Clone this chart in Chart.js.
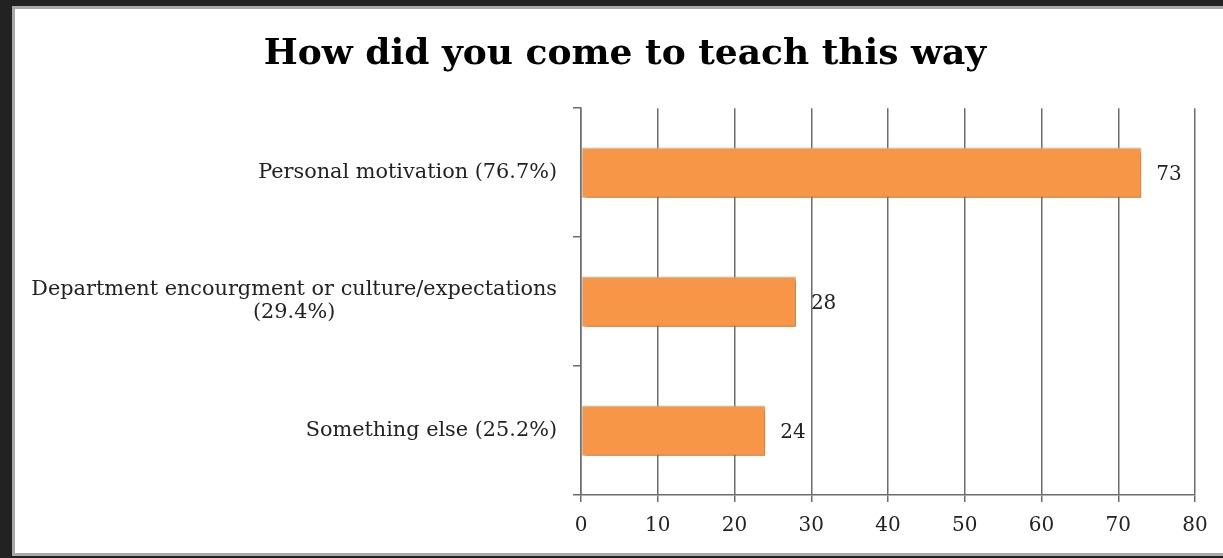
<!DOCTYPE html>
<html>
<head>
<meta charset="utf-8">
<script src="https://cdn.jsdelivr.net/npm/chart.js@4"></script>
<style>
  html, body { margin: 0; padding: 0; background: #222222; width: 1223px; height: 558px; overflow: hidden; }
  #panel { position: absolute; left: 12px; top: 6px; width: 1220px; height: 544px; background: #ffffff; border: 3px solid #a8a8a8; }
  #wrap { position: absolute; left: 0; top: 0; width: 1223px; height: 558px; }
</style>
</head>
<body>
<div id="panel"></div>
<div id="wrap"><canvas id="chart"></canvas></div>
<script>
// dados
const chartTitle = 'How did you come to teach this way';
const categories = [
  ['Personal motivation (76.7%)'],
  ['Department encourgment or culture/expectations', '(29.4%)'],
  ['Something else (25.2%)']
];
const counts = [73, 28, 24];
const xMin = 0;
const xMax = 80;
const xStep = 10;

const serif = "'DejaVu Serif', 'Liberation Serif', serif";
const barColor = '#f79646';
const gridColor = '#6c6c6c';

// sombra das barras (como no Excel)
const barShadow = {
  id: 'barShadow',
  beforeDatasetsDraw(chart) {
    const ctx = chart.ctx;
    ctx.save();
    ctx.shadowColor = 'rgba(0,0,0,0.4)';
    ctx.shadowBlur = 4;
    ctx.shadowOffsetX = 2;
    ctx.shadowOffsetY = 3;
  },
  afterDatasetsDraw(chart) {
    chart.ctx.restore();
  }
};

// rótulos de categoria: bloco alinhado à direita, linhas centradas entre si
const categoryLabels = {
  id: 'categoryLabels',
  afterDraw(chart) {
    const ctx = chart.ctx;
    const y = chart.scales.y;
    const right = chart.chartArea.left - 24;
    const lineH = 23;
    ctx.save();
    ctx.font = '20.8px ' + serif;
    ctx.fillStyle = '#222222';
    ctx.textAlign = 'center';
    ctx.textBaseline = 'middle';
    categories.forEach((lines, i) => {
      const cy = y.getPixelForValue(i);
      const w = Math.max(...lines.map(l => ctx.measureText(l).width));
      const cx = right - w / 2;
      const y0 = cy - (lines.length - 1) * lineH / 2;
      lines.forEach((l, k) => ctx.fillText(l, cx, y0 + k * lineH));
    });
    ctx.restore();
  }
};

// valores ao lado das barras
const valueLabels = {
  id: 'valueLabels',
  afterDatasetsDraw(chart) {
    const ctx = chart.ctx;
    const meta = chart.getDatasetMeta(0);
    ctx.save();
    ctx.font = '20px ' + serif;
    ctx.fillStyle = '#222222';
    ctx.textAlign = 'left';
    ctx.textBaseline = 'middle';
    meta.data.forEach((bar, i) => {
      ctx.fillText(String(counts[i]), bar.x + 15, bar.y + 2);
    });
    ctx.restore();
  }
};

new Chart(document.getElementById('chart'), {
  type: 'bar',
  data: {
    labels: categories.map(c => c.join(' ')),
    datasets: [{
      data: counts,
      backgroundColor: barColor,
      borderColor: '#fbb77f',
      borderWidth: 1,
      borderSkipped: false,
      barPercentage: 0.39,
      categoryPercentage: 1
    }]
  },
  options: {
    indexAxis: 'y',
    responsive: true,
    maintainAspectRatio: false,
    animation: false,
    layout: { padding: { left: 55, right: 28, top: 8, bottom: 21 } },
    plugins: {
      legend: { display: false },
      tooltip: { enabled: false },
      title: {
        display: true,
        text: chartTitle,
        color: '#000000',
        font: { family: serif, size: 36, weight: 'bold' },
        padding: { top: 25, bottom: 32 }
      }
    },
    scales: {
      x: {
        min: xMin,
        max: xMax,
        ticks: { stepSize: xStep, color: '#222222', font: { family: serif, size: 20 }, padding: 12 },
        grid: { color: gridColor, lineWidth: 1.5, tickLength: 7 },
        border: { color: gridColor, width: 1.5 },
        afterFit: s => { s.height = 42; }
      },
      y: {
        ticks: { display: false },
        grid: { drawOnChartArea: false, color: gridColor, lineWidth: 1.5, tickLength: 8, offset: true },
        border: { color: gridColor, width: 1.5 },
        afterFit: s => { s.width = 526; }
      }
    }
  },
  plugins: [barShadow, categoryLabels, valueLabels]
});
</script>
</body>
</html>
